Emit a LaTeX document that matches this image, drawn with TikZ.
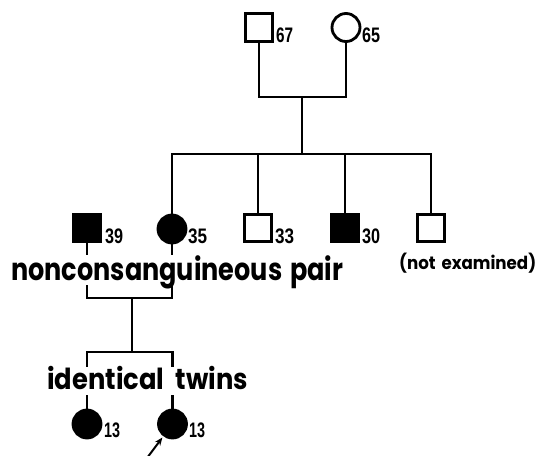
\documentclass[tikz,border=0pt]{standalone}
\usepackage{fontspec}
\usepackage{graphicx}
\setmainfont{Poppins}
\newfontfamily\numfont{Liberation Sans}
\usetikzlibrary{arrows.meta}

\tikzset{
  male/.style={draw, rectangle, line width=2.8pt, minimum size=27.5pt, inner sep=0pt},
  female/.style={draw, circle, line width=2.8pt, minimum size=28pt, inner sep=0pt},
  affected/.style={fill=black},
  link/.style={line width=2.5pt},
  age/.style={anchor=base west, inner sep=0pt},
  caption/.style={anchor=base west, inner sep=0pt, fill=white},
}
% age label squeezed to a given width
\newcommand{\agelabel}[2]{\resizebox{#1}{\height}{\fontsize{21}{21}\numfont\bfseries #2}}

\begin{document}
\begin{tikzpicture}[x=1pt,y=-1pt]
  \useasboundingbox (0,0) rectangle (542,456);

  % grandparents
  \node[male]   (gf) at (259,27.5) {};
  \node[female] (gm) at (346,27.5) {};
  \node[age] (agf) at (276,42) {\agelabel{17pt}{67}};
  \node[age] (agm) at (362,42) {\agelabel{18pt}{65}};

  % children and in-law
  \node[male,affected]   (s39) at (87,228)  {};
  \node[female,affected] (c35) at (172,229) {};
  \node[male]            (s33) at (258,228) {};
  \node[male,affected]   (s30) at (345,228) {};
  \node[male]            (sne) at (431,228) {};
  \node[age] (a39) at (105,243) {\agelabel{18pt}{39}};
  \node[age] (a35) at (188,243) {\agelabel{19pt}{35}};
  \node[age] (a33) at (275,243) {\agelabel{19pt}{33}};
  \node[age] (a30) at (362,243) {\agelabel{18pt}{30}};

  % twins
  \node[female,affected] (t1) at (87,424)    {};
  \node[female,affected] (t2) at (172.5,424) {};
  \node[age] (a13a) at (104,437) {\agelabel{16pt}{13}};
  \node[age] (a13b) at (189,437) {\agelabel{16pt}{13}};

  % junction points
  \coordinate (gp)  at (302,97);
  \coordinate (sib) at (302,154);
  \coordinate (mp)  at (132,298);
  \coordinate (tw)  at (132,352);
  \coordinate (ar)  at (147,458);

  % connectors
  \draw[link] (gf.south) |- (gp) -| (gm.south);
  \draw[link] (gp) -- (sib);
  \draw[link] (c35.north) |- (sib) -| (sne.north);
  \draw[link] (sib) -| (s33.north);
  \draw[link] (sib) -| (s30.north);
  \draw[link] (s39.south) |- (mp) -| (c35.south);
  \draw[link] (mp) -- (tw);
  \draw[link] (t1.north) |- (tw) -| (t2.north);
  \draw[line width=2pt, -{Stealth[length=8pt,width=6.5pt]}, shorten >=1.5pt] (ar) -- (t2);

  % captions
  \node[caption, text height=25pt, text depth=5pt] (pair) at (11,280)
    {\resizebox{332pt}{\height}{\fontsize{31}{31}\selectfont\bfseries nonconsanguineous\hspace{0.3em}pair}};
  \node[caption, text height=22pt, text depth=6pt] (twins) at (47,389)
    {\resizebox{201pt}{\height}{\fontsize{29}{29}\selectfont\bfseries identical\hspace{0.45em}twins}};
  \node[age] (nex) at (399,269)
    {\resizebox{137pt}{\height}{\fontsize{18}{18}\selectfont\bfseries (not\hspace{0.35em}examined)}};
\end{tikzpicture}
\end{document}
